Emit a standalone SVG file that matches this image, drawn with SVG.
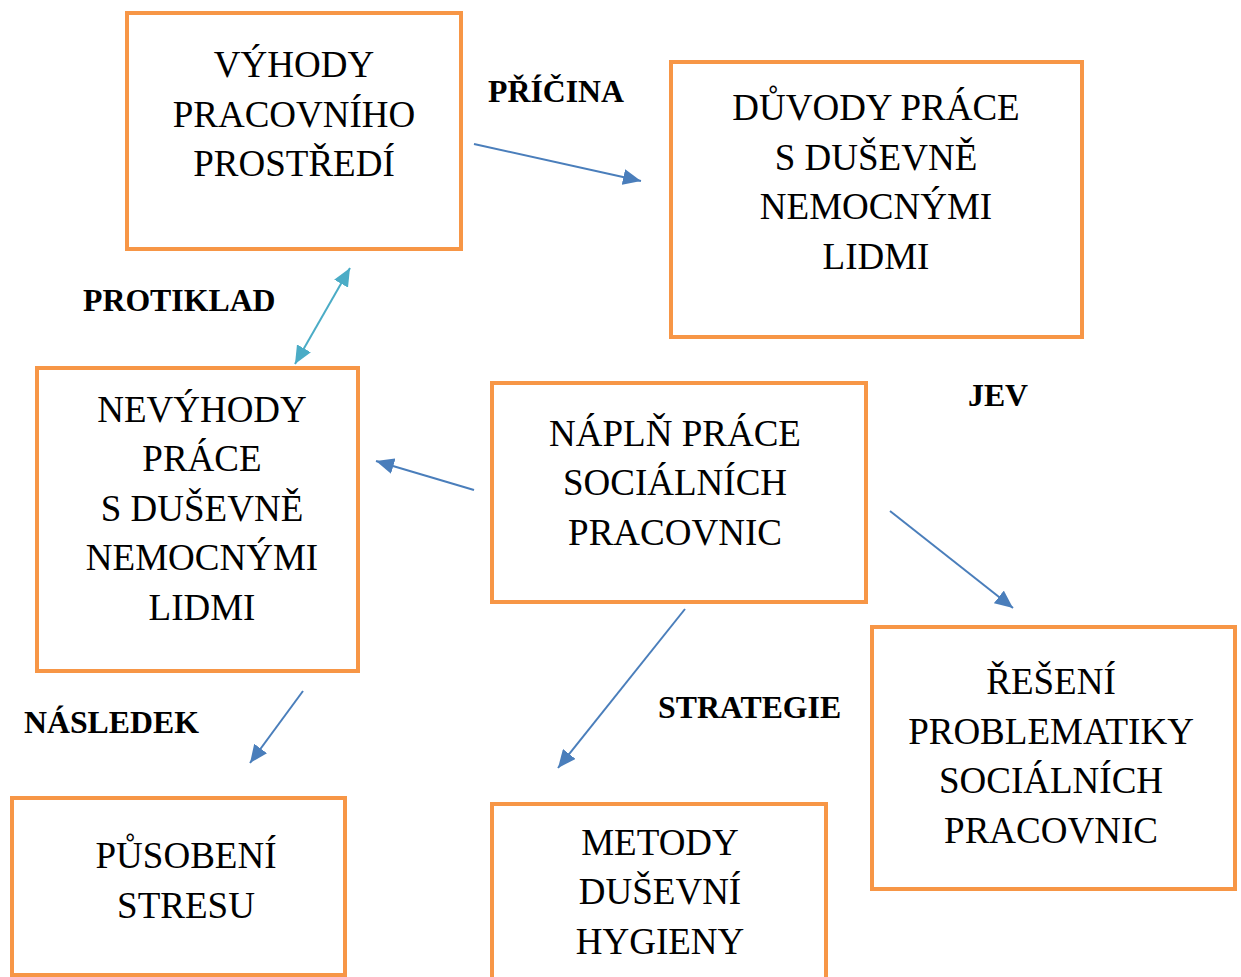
<svg xmlns="http://www.w3.org/2000/svg" width="1241" height="977" viewBox="0 0 1241 977">
<style>
.box{fill:#fff;stroke:#F79646;stroke-width:4}
.t{font-family:"Liberation Serif","Times New Roman",serif;font-size:37px;fill:#000;text-anchor:middle}
.l{font-family:"Liberation Serif","Times New Roman",serif;font-size:31.8px;font-weight:bold;fill:#000}
.c{fill:none;stroke:#4A7EBB;stroke-width:2}
.c2{fill:none;stroke:#4BACC6;stroke-width:2}
</style>
<defs>
<marker id="ah" markerUnits="userSpaceOnUse" markerWidth="20" markerHeight="16" refX="18" refY="8" orient="auto"><path d="M0,0 L18,8 L0,16 Z" fill="#4A7EBB"/></marker>
<marker id="ah2" markerUnits="userSpaceOnUse" markerWidth="20" markerHeight="16" refX="18" refY="8" orient="auto-start-reverse"><path d="M0,0 L18,8 L0,16 Z" fill="#4BACC6"/></marker>
</defs>
<rect width="1241" height="977" fill="#fff"/>
<g id="n1"><rect class="box" x="127" y="13" width="334" height="236"/>
<text class="t" x="294" y="77">VÝHODY</text><text class="t" x="294" y="127">PRACOVNÍHO</text><text class="t" x="294" y="176">PROSTŘEDÍ</text></g>
<g id="n2"><rect class="box" x="671" y="62" width="411" height="275"/>
<text class="t" x="876" y="120">DŮVODY PRÁCE</text><text class="t" x="876" y="170">S DUŠEVNĚ</text><text class="t" x="876" y="219">NEMOCNÝMI</text><text class="t" x="876" y="269">LIDMI</text></g>
<g id="n3"><rect class="box" x="37" y="368" width="321" height="303"/>
<text class="t" x="202" y="422">NEVÝHODY</text><text class="t" x="202" y="471">PRÁCE</text><text class="t" x="202" y="521">S DUŠEVNĚ</text><text class="t" x="202" y="570">NEMOCNÝMI</text><text class="t" x="202" y="620">LIDMI</text></g>
<g id="n4"><rect class="box" x="492" y="383" width="374" height="219"/>
<text class="t" x="675" y="446">NÁPLŇ PRÁCE</text><text class="t" x="675" y="495">SOCIÁLNÍCH</text><text class="t" x="675" y="545">PRACOVNIC</text></g>
<g id="n5"><rect class="box" x="872" y="627" width="363" height="262"/>
<text class="t" x="1051" y="694">ŘEŠENÍ</text><text class="t" x="1051" y="744">PROBLEMATIKY</text><text class="t" x="1051" y="793">SOCIÁLNÍCH</text><text class="t" x="1051" y="843">PRACOVNIC</text></g>
<g id="n6"><rect class="box" x="12" y="798" width="333" height="177"/>
<text class="t" x="186" y="868">PŮSOBENÍ</text><text class="t" x="186" y="918">STRESU</text></g>
<g id="n7"><rect class="box" x="492" y="804" width="334" height="190"/>
<text class="t" x="660" y="855">METODY</text><text class="t" x="660" y="904">DUŠEVNÍ</text><text class="t" x="660" y="954">HYGIENY</text></g>
<g id="connectors">
<line class="c" x1="474" y1="144" x2="641" y2="181" marker-end="url(#ah)"/>
<line class="c2" x1="350" y1="268" x2="295" y2="364" marker-start="url(#ah2)" marker-end="url(#ah2)"/>
<line class="c" x1="474" y1="490" x2="376" y2="461" marker-end="url(#ah)"/>
<line class="c" x1="890" y1="511" x2="1013" y2="608" marker-end="url(#ah)"/>
<line class="c" x1="685" y1="609" x2="558" y2="768" marker-end="url(#ah)"/>
<line class="c" x1="303" y1="691" x2="250" y2="763" marker-end="url(#ah)"/>
</g>
<g id="labels">
<text class="l" x="488" y="102">PŘÍČINA</text>
<text class="l" x="83" y="311">PROTIKLAD</text>
<text class="l" x="968" y="406">JEV</text>
<text class="l" x="24" y="733">NÁSLEDEK</text>
<text class="l" x="658" y="718">STRATEGIE</text>
</g>
</svg>
